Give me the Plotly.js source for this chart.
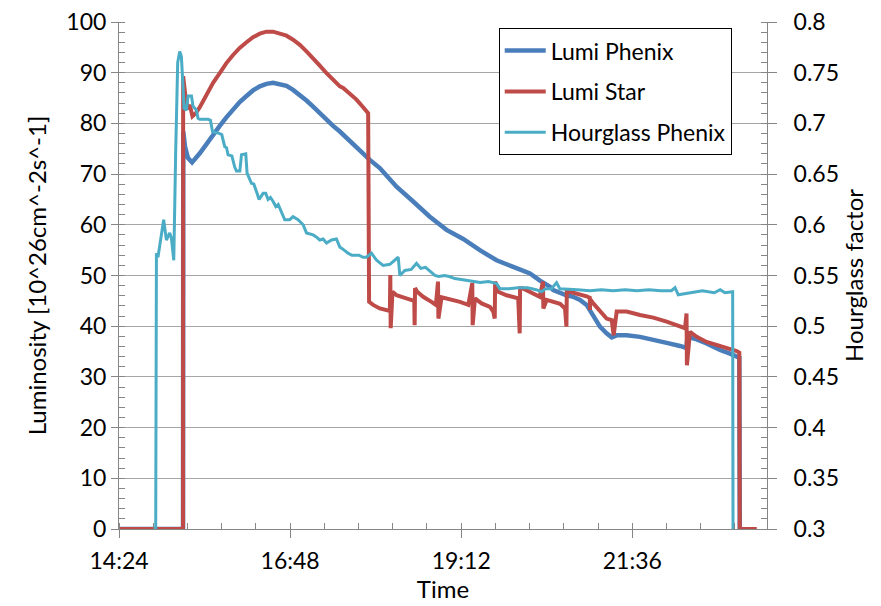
<!DOCTYPE html>
<html>
<head>
<meta charset="utf-8">
<script src="https://cdn.plot.ly/plotly-3.0.1.min.js"></script>
<style>html,body{margin:0;padding:0;background:#fff}</style>
</head>
<body>
<div id="chart" style="width:881px;height:606px"></div>
<script>
// Run date for the time stamps (only the clock time is shown on the axis)
const runDay = '2013-06-01 ';

// Lumi Phenix [10^26 cm^-2 s^-1]
const phenixTime = ["14:24:00","15:17:54","15:18:06","15:19:30","15:22:00","15:25:30","15:32:00","15:37:36","15:43:12","15:48:48","15:54:24","16:00:00","16:05:36","16:11:18","16:16:48","16:22:30","16:28:06","16:33:42","16:39:18","16:45:00","16:50:30","16:56:12","17:01:48","17:07:24","17:13:00","17:18:42","17:24:12","17:29:54","17:35:30","17:49:30","17:55:06","18:03:30","18:17:36","18:31:36","18:45:36","18:59:42","19:13:42","19:27:42","19:41:48","19:55:48","20:09:54","20:18:18","20:26:42","20:29:30","20:35:06","20:40:42","20:46:18","20:52:00","20:57:36","21:03:12","21:08:48","21:14:24","21:18:42","21:22:54","21:31:18","21:42:30","21:53:42","22:05:00","22:16:12","22:21:30","22:22:30","22:30:12","22:38:36","22:49:54","22:58:18","23:03:54","23:06:06","23:06:30"];
const phenixLumi = [0,0,78.4,75.5,73.2,72.3,74.1,76.0,77.7,79.5,81.2,82.8,84.2,85.4,86.5,87.3,87.8,88.0,87.8,87.4,86.6,85.6,84.5,83.3,82.0,80.8,79.5,78.4,77.1,74.1,72.8,71.2,67.5,64.6,61.6,59.0,57.2,55.0,53.0,51.7,50.4,49.0,47.8,47.1,46.5,46.1,45.8,45.2,44.2,41.9,39.9,38.6,37.8,38.2,38.2,37.9,37.4,36.7,36.1,35.7,37.9,37.4,36.6,35.3,34.6,34.0,33.8,0];

// Lumi Star [10^26 cm^-2 s^-1]
const starTime = ["14:24:00","15:17:54","15:18:00","15:20:12","15:22:06","15:23:30","15:25:48","15:28:36","15:32:00","15:37:36","15:43:12","15:48:48","15:54:24","16:00:00","16:05:36","16:11:18","16:16:48","16:22:30","16:28:06","16:33:42","16:39:18","16:45:00","16:50:30","16:56:12","17:01:48","17:07:24","17:13:00","17:18:42","17:24:12","17:29:54","17:32:42","17:38:18","17:43:54","17:49:30","17:52:18","17:53:42","17:54:30","17:57:54","18:03:30","18:10:30","18:12:00","18:12:20","18:12:40","18:14:12","18:17:36","18:23:12","18:30:12","18:32:30","18:32:50","18:33:10","18:35:00","18:40:00","18:47:00","18:50:42","18:52:30","18:52:50","18:55:30","19:02:36","19:11:00","19:18:00","19:21:20","19:21:40","19:23:36","19:29:12","19:36:12","19:39:00","19:40:15","19:40:35","19:43:12","19:50:12","19:57:12","20:00:00","20:01:15","20:01:35","20:03:30","20:09:42","20:18:06","20:20:50","20:21:10","20:24:00","20:29:36","20:35:12","20:39:24","20:40:35","20:40:55","20:42:18","20:46:30","20:52:00","20:57:36","21:00:15","21:00:24","21:00:35","21:03:12","21:08:48","21:14:24","21:18:42","21:20:20","21:22:54","21:31:18","21:42:30","21:53:42","22:05:00","22:16:12","22:20:24","22:21:40","22:22:00","22:24:36","22:30:12","22:38:36","22:47:00","22:55:30","23:03:54","23:06:06","23:06:30","23:20:48"];
const starLumi = [0,0,89.3,84.7,82.8,83.7,81.4,82.0,83.2,85.6,88.0,89.9,91.9,93.5,94.9,96.0,97.0,97.7,98.1,98.1,97.8,97.3,96.5,95.5,94.2,92.9,91.4,89.9,88.5,87.3,87.0,85.8,84.7,83.2,82.5,82.0,44.8,44.2,43.5,43.0,43.0,50.1,39.6,46.8,46.1,45.7,45.2,45.0,40.2,47.5,46.8,45.8,44.8,44.2,48.8,41.5,45.7,45.3,44.8,44.2,48.5,40.2,45.5,44.5,43.8,42.9,41.5,48.8,46.8,46.1,45.7,45.5,38.6,47.5,47.5,46.8,45.8,48.8,43.5,45.2,44.9,44.4,43.5,39.9,47.1,46.8,46.6,46.3,45.9,45.6,43.2,45.3,44.5,42.9,41.5,41.2,38.2,42.9,42.9,42.2,41.7,40.9,40.0,39.6,42.5,32.3,38.9,37.9,36.9,36.3,35.8,35.1,34.8,0,0];

// Hourglass factor (PHENIX)
const hourglassTime = ["14:54:54","14:55:30","14:56:48","15:01:36","15:03:54","15:06:42","15:08:06","15:10:06","15:11:42","15:13:24","15:15:06","15:16:30","15:17:54","15:18:42","15:20:42","15:22:06","15:25:00","15:26:18","15:29:12","15:30:30","15:32:00","15:39:00","15:41:00","15:42:42","15:48:48","15:50:30","15:53:00","15:54:30","15:55:48","15:59:00","16:01:24","16:02:54","16:05:42","16:07:06","16:10:42","16:11:48","16:15:30","16:17:30","16:20:12","16:21:54","16:25:18","16:27:30","16:29:30","16:31:30","16:33:42","16:36:00","16:38:00","16:40:48","16:43:30","16:47:42","16:50:30","16:54:42","16:59:00","17:01:48","17:07:24","17:10:00","17:13:00","17:15:48","17:18:42","17:22:54","17:27:00","17:29:54","17:31:18","17:36:48","17:40:00","17:46:00","17:49:30","17:52:18","17:56:30","18:00:48","18:06:18","18:12:00","18:16:00","18:19:00","18:20:24","18:24:36","18:30:00","18:34:24","18:38:00","18:42:00","18:49:54","18:53:00","18:58:00","19:02:00","19:06:42","19:12:00","19:20:48","19:28:00","19:35:00","19:41:48","19:44:36","19:52:00","20:00:00","20:08:00","20:15:00","20:19:42","20:23:00","20:28:00","20:32:18","20:35:00","20:50:00","21:00:24","21:10:00","21:20:00","21:30:00","21:40:00","21:50:00","22:00:00","22:09:00","22:12:00","22:14:42","22:25:00","22:35:00","22:45:00","22:50:00","22:54:00","22:59:42","23:00:30","23:00:48"];
const hourglassFactor = [0.300,0.572,0.568,0.605,0.585,0.592,0.587,0.565,0.671,0.760,0.771,0.766,0.736,0.715,0.713,0.727,0.727,0.717,0.713,0.705,0.704,0.704,0.703,0.692,0.690,0.689,0.677,0.676,0.669,0.668,0.657,0.653,0.653,0.669,0.670,0.651,0.641,0.640,0.631,0.625,0.631,0.631,0.625,0.627,0.623,0.618,0.620,0.613,0.605,0.605,0.608,0.605,0.600,0.592,0.590,0.588,0.585,0.586,0.582,0.585,0.586,0.578,0.577,0.572,0.570,0.570,0.568,0.568,0.572,0.565,0.560,0.561,0.565,0.568,0.550,0.555,0.556,0.562,0.557,0.558,0.550,0.549,0.550,0.549,0.547,0.546,0.544,0.543,0.544,0.542,0.537,0.537,0.538,0.538,0.536,0.534,0.537,0.537,0.543,0.537,0.536,0.535,0.536,0.535,0.536,0.535,0.536,0.535,0.535,0.538,0.531,0.533,0.535,0.533,0.536,0.533,0.534,0.534,0.300];

// Axis / legend labels
const seriesNames = ['Lumi Phenix', 'Lumi Star', 'Hourglass Phenix'];
const xTitle = 'Time';
const yTitle = 'Luminosity [10^26cm^-2s^-1]';
const y2Title = 'Hourglass factor';

const stamp = t => runDay + t;
const FONT = 'Lato, "Open Sans", sans-serif';
const AXIS = '#868686';
const TICK_SIZE = 23;
const TITLE_SIZE = 24;

const traces = [
  { x: phenixTime.map(stamp), y: phenixLumi, name: seriesNames[0], legendgroup: 'a',
    type: 'scatter', mode: 'lines', line: { color: '#4a7ebb', width: 4.5 } },
  { x: starTime.map(stamp), y: starLumi, name: seriesNames[1], legendgroup: 'b',
    type: 'scatter', mode: 'lines', line: { color: '#be4b48', width: 4 } },
  { x: hourglassTime.map(stamp), y: hourglassFactor, name: seriesNames[2], legendgroup: 'c', yaxis: 'y2',
    type: 'scatter', mode: 'lines', line: { color: '#4bacc6', width: 3 } }
];

const layout = {
  width: 881, height: 606,
  margin: { l: 119, r: 114, t: 22, b: 77 },
  paper_bgcolor: '#fff', plot_bgcolor: '#fff',
  font: { family: FONT, size: TICK_SIZE, color: '#000' },
  showlegend: true,
  legend: {
    x: 0.586, y: 0.988, xanchor: 'left', yanchor: 'top',
    bgcolor: '#fff', bordercolor: '#000', borderwidth: 1,
    font: { family: FONT, size: 23, color: '#000' },
    itemwidth: 41,
    tracegroupgap: 8
  },
  xaxis: {
    type: 'date',
    range: [runDay + '14:24:00', runDay + '23:29:24'],
    tick0: runDay + '14:24:00', dtick: 8640000, tickformat: '%H:%M',
    ticks: 'outside', ticklen: 8, tickcolor: AXIS, tickwidth: 1,
    minor: { dtick: 1728000, ticks: 'inside', ticklen: 6, tickcolor: AXIS, showgrid: false },
    showline: true, linecolor: AXIS, linewidth: 1,
    showgrid: false, zeroline: false,
    ticklabelstandoff: 3,
    tickfont: { size: TICK_SIZE },
    title: { text: xTitle, font: { size: TITLE_SIZE }, standoff: 8 }
  },
  yaxis: {
    range: [0, 100], dtick: 10,
    ticks: 'outside', ticklen: 7, tickcolor: AXIS,
    minor: { dtick: 2, ticks: 'inside', ticklen: 6, tickcolor: AXIS, showgrid: false },
    showline: true, linecolor: AXIS, linewidth: 1,
    showgrid: true, gridcolor: '#a6a6a6', gridwidth: 1, zeroline: false,
    tickfont: { size: TICK_SIZE },
    title: { text: yTitle, font: { size: TITLE_SIZE }, standoff: 12 }
  },
  yaxis2: {
    overlaying: 'y', side: 'right',
    range: [0.3, 0.8], dtick: 0.05,
    ticks: 'outside', ticklen: 9, tickcolor: AXIS,
    minor: { dtick: 0.01, ticks: 'inside', ticklen: 6, tickcolor: AXIS, showgrid: false },
    showline: true, linecolor: AXIS, linewidth: 1,
    showgrid: false, zeroline: false,
    ticklabelstandoff: 12,
    tickfont: { size: TICK_SIZE },
    title: { text: y2Title, font: { size: TITLE_SIZE }, standoff: 8 }
  }
};

Plotly.newPlot('chart', traces, layout, { staticPlot: true, displayModeBar: false });
</script>
</body>
</html>
